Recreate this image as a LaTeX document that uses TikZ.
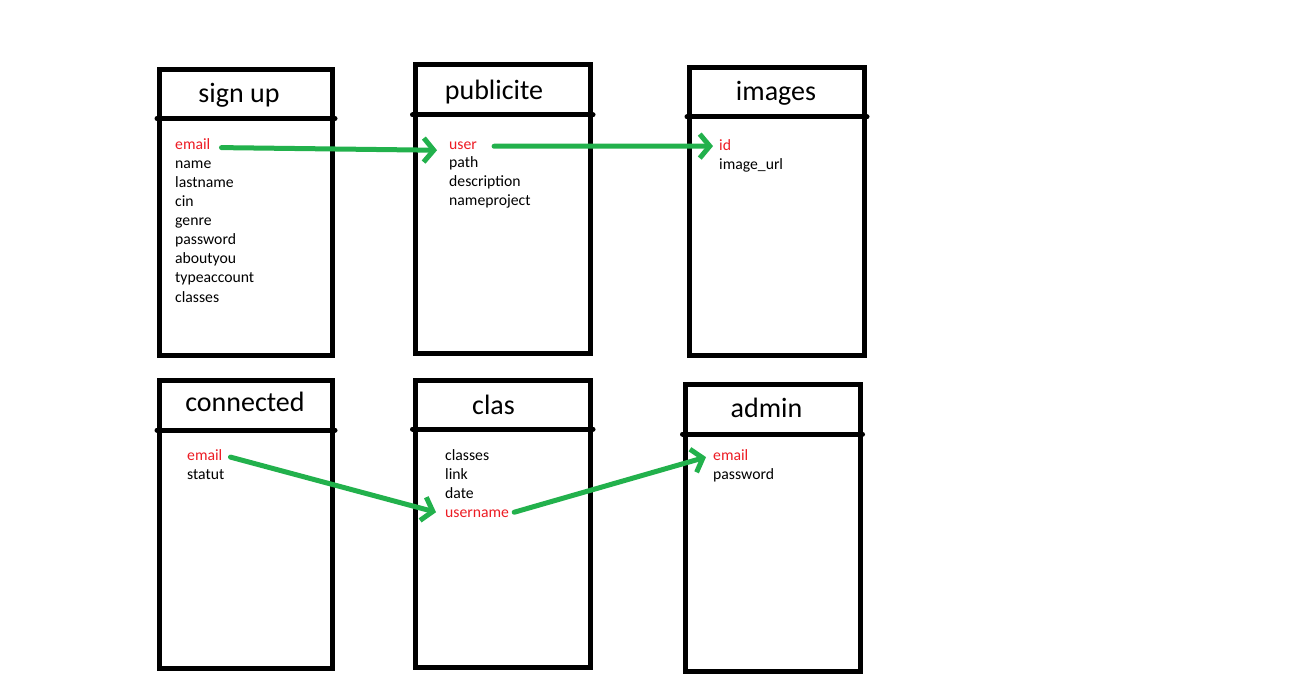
\documentclass[tikz,border=0pt]{standalone}
\usepackage{fontspec}
\setmainfont{Carlito}
\usetikzlibrary{arrows.meta}
\definecolor{linkgreen}{RGB}{34,177,76}
\definecolor{keyred}{RGB}{237,28,36}
\tikzset{
  tablebox/.style={line width=5pt, line join=miter},
  divider/.style={line width=5pt, line cap=round},
  ttl/.style={anchor=base, inner sep=0pt, font=\fontsize{28}{30}\selectfont},
  fld/.style={anchor=base west, inner sep=0pt, font=\fontsize{15.7}{17}\selectfont, text=black},
  pk/.style={fld, text=keyred},
  link/.style={draw=linkgreen, line width=5pt, line cap=round, -{Straight Barb[length=10pt,width=24pt,line width=5pt]}}
}
\begin{document}
\begin{tikzpicture}[x=1pt,y=-1pt]
\useasboundingbox (0,0) rectangle (1310,679);
\fill[white] (0,0) rectangle (1310,679);

% boxes
\draw[tablebox] (159.5,69.5) rectangle (332.5,355);
\draw[divider] (157,118.5) -- (335,118.5);
\draw[tablebox] (415,65) rectangle (590.5,353);
\draw[divider] (412.5,115) -- (593,115);
\draw[tablebox] (689.5,68) rectangle (864.5,355);
\draw[divider] (687,117) -- (867,117);

\draw[tablebox] (159.5,380.5) rectangle (332.5,668.5);
\draw[divider] (157,430) -- (335,430);
\draw[tablebox] (415,380) rectangle (590.5,667);
\draw[divider] (412.5,429) -- (593,429);
\draw[tablebox] (685,384) rectangle (860,671);
\draw[divider] (682.5,434) -- (862.5,434);

% titles
\node[ttl] (tsign) at (239,103) {sign up};
\node[ttl] (tpub) at (494,100) {publicite};
\node[ttl] (timg) at (776,101) {images};
\node[ttl] (tcon) at (245,411) {connected};
\node[ttl] (tclas) at (493.5,414) {clas};
\node[ttl] (tadm) at (766.5,417) {admin};

% sign up fields
\node[pk]  (su1) at (175,150) {email};
\node[fld] (su2) at (175,169) {name};
\node[fld] (su3) at (175,188) {lastname};
\node[fld] (su4) at (175,207) {cin};
\node[fld] (su5) at (175,226) {genre};
\node[fld] (su6) at (175,245) {password};
\node[fld] (su7) at (175,264) {aboutyou};
\node[fld] (su8) at (175,283) {typeaccount};
\node[fld] (su9) at (175,302) {classes};

% publicite fields
\node[pk]  (pu1) at (449,150) {user};
\node[fld] (pu2) at (449,168) {path};
\node[fld] (pu3) at (449,187) {description};
\node[fld] (pu4) at (449,206) {nameproject};

% images fields
\node[pk]  (im1) at (719,151) {id};
\node[fld] (im2) at (719,170) {image\_url};

% connected fields
\node[pk]  (co1) at (187,460) {email};
\node[fld] (co2) at (187,479) {statut};

% clas fields
\node[fld] (cl1) at (445,460) {classes};
\node[fld] (cl2) at (445,479) {link};
\node[fld] (cl3) at (445,498) {date};
\node[pk]  (cl4) at (445,517) {username};

% admin fields
\node[pk]  (ad1) at (713,460) {email};
\node[fld] (ad2) at (713,479) {password};

% links
\draw[link] ([xshift=11pt,yshift=-3pt]su1.east) -- ([xshift=-12pt,yshift=-4pt]pu1.west);
\draw[link] ([xshift=17pt,yshift=0pt]pu1.east) -- ([xshift=-6pt,yshift=-0.5pt]im1.west);
\draw[link] ([xshift=8pt,yshift=-2.5pt]co1.east) -- ([xshift=-9pt,yshift=1pt]cl4.west);
\draw[link] ([xshift=5pt,yshift=1pt]cl4.east) -- ([xshift=-7pt,yshift=-2.5pt]ad1.west);
\end{tikzpicture}
\end{document}
